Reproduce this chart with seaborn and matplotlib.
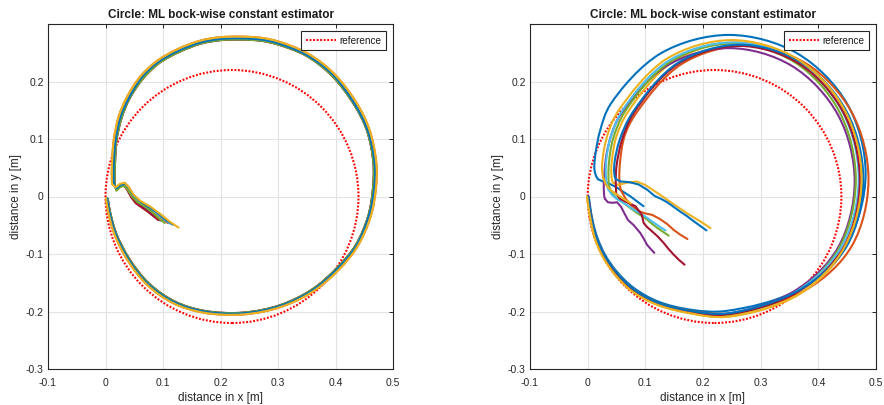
import numpy as np
import matplotlib
matplotlib.use("Agg")
import matplotlib.pyplot as plt
from matplotlib.path import Path
from matplotlib.patches import PathPatch, Circle
from matplotlib.lines import Line2D
from matplotlib.ticker import FuncFormatter
import seaborn as sns

# ---------------------------------------------------------------- data
TITLE = "Circle: ML bock-wise constant estimator"
X_LABEL = "distance in x [m]"
Y_LABEL = "distance in y [m]"
LEGEND_LABEL = "reference"

X_TICKS = [-0.1, 0.0, 0.1, 0.2, 0.3, 0.4, 0.5]
Y_TICKS = [-0.3, -0.2, -0.1, 0.0, 0.1, 0.2]

# reference trajectory: circle through the origin
REF_CENTER = (0.22, 0.0)
REF_RADIUS = 0.22

# ---- left panel: start segments (from start point to the turn-in)
left_tail_blue = [(0.117, -0.049), (0.104, -0.040), (0.090, -0.028), (0.075, -0.018), (0.061, -0.009),
                  (0.049, 0.002), (0.041, 0.015), (0.034, 0.022), (0.026, 0.020), (0.019, 0.014), (0.015, 0.022)]
left_tail_orange = [(0.108, -0.046), (0.097, -0.037), (0.085, -0.026), (0.071, -0.017), (0.058, -0.009),
                    (0.048, 0.002), (0.040, 0.016), (0.034, 0.023), (0.026, 0.021), (0.019, 0.015), (0.013, 0.021)]
left_tail_yellow = [(0.127, -0.054), (0.112, -0.044), (0.095, -0.030), (0.077, -0.017), (0.061, -0.008),
                    (0.049, 0.003), (0.040, 0.017), (0.033, 0.024), (0.025, 0.022), (0.018, 0.016), (0.012, 0.021)]
left_tail_purple = [(0.096, -0.042), (0.086, -0.035), (0.075, -0.025), (0.064, -0.017), (0.054, -0.010),
                    (0.046, 0.000), (0.039, 0.014), (0.033, 0.021), (0.026, 0.019), (0.019, 0.013), (0.016, 0.021)]
left_tail_green = [(0.103, -0.046), (0.093, -0.038), (0.081, -0.027), (0.068, -0.017), (0.056, -0.010),
                   (0.046, 0.000), (0.038, 0.013), (0.032, 0.019), (0.025, 0.016), (0.019, 0.010), (0.016, 0.020)]
left_tail_cyan = [(0.112, -0.047), (0.100, -0.038), (0.087, -0.027), (0.073, -0.017), (0.059, -0.009),
                  (0.048, 0.001), (0.040, 0.014), (0.033, 0.021), (0.026, 0.019), (0.019, 0.013), (0.015, 0.021)]
left_tail_red = [(0.092, -0.041), (0.083, -0.034), (0.073, -0.026), (0.063, -0.019), (0.053, -0.012),
                 (0.045, -0.002), (0.038, 0.011), (0.032, 0.019), (0.025, 0.017), (0.019, 0.012), (0.016, 0.020)]

# ---- left panel: the lap around the circle (outer / middle / inner runs)
left_loop_outer = [(0.011, 0.035), (0.012, 0.070), (0.0145, 0.099), (0.023, 0.139), (0.038, 0.174),
                   (0.061, 0.209), (0.090, 0.236), (0.125, 0.256), (0.165, 0.271), (0.200, 0.277),
                   (0.235, 0.278), (0.270, 0.276), (0.299, 0.270), (0.351, 0.249), (0.397, 0.214),
                   (0.437, 0.162), (0.459, 0.116), (0.471, 0.058), (0.470, 0.012), (0.461, -0.035),
                   (0.438, -0.087), (0.405, -0.128), (0.361, -0.165), (0.305, -0.192), (0.240, -0.205),
                   (0.171, -0.202), (0.119, -0.186), (0.073, -0.154), (0.038, -0.110), (0.015, -0.064),
                   (0.004, -0.023), (0.001, -0.003)]
left_loop_mid = [(0.014, 0.035), (0.015, 0.070), (0.0175, 0.098), (0.026, 0.138), (0.041, 0.172),
                 (0.063, 0.207), (0.092, 0.234), (0.126, 0.253), (0.166, 0.268), (0.200, 0.274),
                 (0.235, 0.275), (0.270, 0.273), (0.298, 0.267), (0.350, 0.246), (0.395, 0.212),
                 (0.434, 0.160), (0.456, 0.115), (0.468, 0.058), (0.467, 0.012), (0.458, -0.034),
                 (0.436, -0.086), (0.403, -0.126), (0.360, -0.163), (0.304, -0.190), (0.240, -0.203),
                 (0.172, -0.200), (0.120, -0.184), (0.074, -0.152), (0.040, -0.109), (0.017, -0.063),
                 (0.006, -0.023), (0.003, -0.003)]
left_loop_inner = [(0.016, 0.035), (0.017, 0.070), (0.019, 0.098), (0.028, 0.137), (0.042, 0.171),
                   (0.065, 0.205), (0.093, 0.232), (0.127, 0.251), (0.166, 0.266), (0.200, 0.272),
                   (0.235, 0.273), (0.270, 0.271), (0.298, 0.265), (0.349, 0.245), (0.394, 0.210),
                   (0.433, 0.159), (0.455, 0.114), (0.466, 0.058), (0.465, 0.012), (0.457, -0.034),
                   (0.435, -0.085), (0.402, -0.125), (0.359, -0.162), (0.304, -0.189), (0.240, -0.202),
                   (0.172, -0.199), (0.121, -0.183), (0.075, -0.151), (0.041, -0.108), (0.018, -0.063),
                   (0.007, -0.023), (0.004, -0.004)]

# drawing order of the left runs, with the lap each one follows
left_tails = [left_tail_orange, left_tail_purple, left_tail_red, left_tail_cyan,
              left_tail_green, left_tail_blue, left_tail_yellow]
left_loops = [left_loop_outer, left_loop_inner, left_loop_inner, left_loop_mid,
              left_loop_inner, left_loop_mid, left_loop_outer]
LEFT_COLORS = ["#D95319", "#7E2F8E", "#A2142F", "#4DBEEE", "#77AC30", "#0072BD", "#EDB120"]

# ---- right panel: start segments
right_tail_1 = [(0.097, -0.017), (0.0855, -0.0084), (0.074, 0.0003), (0.062, 0.008), (0.050, 0.016),
                (0.038, 0.022), (0.027, 0.026), (0.018, 0.030)]
right_tail_2 = [(0.173, -0.074), (0.160, -0.066), (0.149, -0.058), (0.138, -0.048), (0.125, -0.039),
                (0.112, -0.032), (0.098, -0.029), (0.088, -0.025), (0.076, -0.016), (0.066, -0.004),
                (0.058, 0.010)]
right_tail_3 = [(0.213, -0.055), (0.195, -0.043), (0.172, -0.029), (0.150, -0.014), (0.137, -0.005),
                (0.124, 0.004), (0.112, 0.012), (0.100, 0.020), (0.085, 0.026), (0.068, 0.024),
                (0.053, 0.020), (0.044, 0.024)]
right_tail_4 = [(0.1156, -0.098), (0.109, -0.091), (0.103, -0.084), (0.097, -0.073), (0.0913, -0.0635),
                (0.080, -0.050), (0.070, -0.041), (0.063, -0.028), (0.058, -0.018), (0.051, -0.010),
                (0.043, -0.011), (0.035, -0.010), (0.030, -0.004)]
right_tail_5 = [(0.1405, -0.068), (0.130, -0.061), (0.120, -0.054), (0.111, -0.047), (0.103, -0.040),
                (0.094, -0.034), (0.0855, -0.0287), (0.074, -0.020), (0.0624, -0.0113), (0.050, -0.003),
                (0.042, 0.006), (0.037, 0.018)]
right_tail_6 = [(0.135, -0.059), (0.127, -0.054), (0.120, -0.049), (0.111, -0.043), (0.103, -0.037),
                (0.092, -0.030), (0.080, -0.023), (0.070, -0.016), (0.060, -0.010), (0.050, -0.004),
                (0.042, 0.003), (0.036, 0.012)]
right_tail_7 = [(0.168, -0.1186), (0.158, -0.110), (0.149, -0.101), (0.140, -0.091), (0.132, -0.081),
                (0.122, -0.070), (0.1116, -0.0606), (0.103, -0.053), (0.097, -0.046), (0.094, -0.032),
                (0.083, -0.017), (0.068, -0.010), (0.056, -0.004), (0.050, 0.004)]
right_tail_8 = [(0.206, -0.059), (0.195, -0.051), (0.184, -0.043), (0.172, -0.034), (0.160, -0.026),
                (0.149, -0.018), (0.138, -0.010), (0.127, -0.004), (0.116, 0.001), (0.103, 0.012),
                (0.088, 0.021), (0.072, 0.025), (0.058, 0.026), (0.049, 0.030)]
right_tail_9 = [(0.075, -0.012), (0.062, -0.004), (0.050, 0.004), (0.040, 0.011), (0.032, 0.020),
                (0.027, 0.032)]

# ---- right panel: laps
right_loop_1 = [(0.012, 0.045), (0.013, 0.070), (0.022, 0.116), (0.040, 0.161), (0.1265, 0.2488),
                (0.245, 0.281), (0.3635, 0.2488), (0.4502, 0.1608), (0.482, 0.0405), (0.4502, -0.0798),
                (0.365, -0.162), (0.240, -0.199), (0.180, -0.197), (0.123, -0.183), (0.080, -0.159),
                (0.050, -0.130), (0.030, -0.101), (0.017, -0.072), (0.009, -0.044), (0.004, -0.015),
                (0.002, 0.0)]
right_loop_2 = [(0.055, 0.030), (0.056, 0.058), (0.064, 0.105), (0.0849, 0.146), (0.1637, 0.2309),
                (0.2715, 0.262), (0.3793, 0.2309), (0.4581, 0.146), (0.487, 0.030), (0.4581, -0.086),
                (0.379, -0.162), (0.250, -0.203), (0.180, -0.199), (0.122, -0.185), (0.079, -0.161),
                (0.049, -0.131), (0.029, -0.102), (0.016, -0.073), (0.008, -0.044), (0.003, -0.015),
                (0.001, 0.0)]
right_loop_3 = [(0.041, 0.040), (0.042, 0.062), (0.050, 0.105), (0.071, 0.1488), (0.1502, 0.236),
                (0.2585, 0.268), (0.3668, 0.236), (0.446, 0.1488), (0.475, 0.0295), (0.446, -0.0898),
                (0.3668, -0.170), (0.245, -0.209), (0.178, -0.203), (0.120, -0.188), (0.076, -0.164),
                (0.046, -0.134), (0.026, -0.104), (0.013, -0.074), (0.006, -0.045), (0.001, -0.015),
                (-0.001, 0.0)]
right_loop_4 = [(0.028, 0.012), (0.029, 0.040), (0.033, 0.075), (0.042, 0.110), (0.0571, 0.1423),
                (0.1367, 0.227), (0.2455, 0.258), (0.3543, 0.227), (0.4339, 0.1423), (0.463, 0.0265),
                (0.4339, -0.0893), (0.356, -0.166), (0.235, -0.205), (0.179, -0.201), (0.121, -0.186),
                (0.078, -0.162), (0.048, -0.132), (0.028, -0.103), (0.015, -0.074), (0.008, -0.045),
                (0.003, -0.015), (0.001, 0.0)]
right_loop_5 = [(0.036, 0.035), (0.037, 0.060), (0.044, 0.100), (0.0647, 0.1478), (0.1432, 0.2343),
                (0.2505, 0.266), (0.3578, 0.2343), (0.4363, 0.1478), (0.465, 0.0295), (0.4363, -0.0888),
                (0.360, -0.167), (0.240, -0.207), (0.178, -0.202), (0.120, -0.187), (0.077, -0.163),
                (0.047, -0.133), (0.027, -0.103), (0.014, -0.074), (0.007, -0.045), (0.002, -0.015),
                (0.0, 0.0)]
right_loop_6 = [(0.032, 0.030), (0.032, 0.060), (0.039, 0.100), (0.0604, 0.1498), (0.1407, 0.2363),
                (0.2505, 0.268), (0.3603, 0.2363), (0.4406, 0.1498), (0.470, 0.0315), (0.4406, -0.0868),
                (0.362, -0.165), (0.240, -0.205), (0.178, -0.201), (0.121, -0.186), (0.078, -0.162),
                (0.048, -0.132), (0.028, -0.103), (0.015, -0.074), (0.008, -0.045), (0.003, -0.015),
                (0.001, 0.0)]
right_loop_7 = [(0.049, 0.015), (0.049, 0.040), (0.051, 0.060), (0.060, 0.100), (0.0801, 0.1453),
                (0.157, 0.2307), (0.262, 0.262), (0.367, 0.2307), (0.4439, 0.1453), (0.472, 0.0285),
                (0.4439, -0.0883), (0.366, -0.165), (0.245, -0.205), (0.179, -0.201), (0.121, -0.186),
                (0.078, -0.162), (0.048, -0.132), (0.028, -0.103), (0.015, -0.074), (0.008, -0.045),
                (0.003, -0.015), (0.001, 0.0)]
right_loop_8 = [(0.046, 0.042), (0.047, 0.062), (0.056, 0.100), (0.0787, 0.1473), (0.157, 0.2327),
                (0.264, 0.264), (0.371, 0.2327), (0.4493, 0.1473), (0.478, 0.0305), (0.4493, -0.0863),
                (0.370, -0.161), (0.245, -0.203), (0.179, -0.199), (0.122, -0.185), (0.079, -0.161),
                (0.049, -0.131), (0.029, -0.102), (0.016, -0.073), (0.008, -0.044), (0.003, -0.015),
                (0.001, 0.0)]
right_loop_9 = [(0.025, 0.050), (0.028, 0.080), (0.037, 0.115), (0.0551, 0.1518), (0.1375, 0.2398),
                (0.250, 0.272), (0.3625, 0.2398), (0.4449, 0.1518), (0.475, 0.0315), (0.4449, -0.0888),
                (0.366, -0.170), (0.240, -0.209), (0.178, -0.203), (0.120, -0.188), (0.076, -0.164),
                (0.046, -0.134), (0.026, -0.104), (0.013, -0.074), (0.006, -0.045), (0.001, -0.015),
                (-0.001, 0.0)]

right_tails = [right_tail_1, right_tail_2, right_tail_3, right_tail_4, right_tail_5,
               right_tail_6, right_tail_7, right_tail_8, right_tail_9]
right_loops = [right_loop_1, right_loop_2, right_loop_3, right_loop_4, right_loop_5,
               right_loop_6, right_loop_7, right_loop_8, right_loop_9]
RIGHT_COLORS = ["#0072BD", "#D95319", "#EDB120", "#7E2F8E", "#77AC30", "#4DBEEE", "#A2142F",
                "#0072BD", "#EDB120"]

# ---------------------------------------------------------------- style
REF_COLOR = "#FF0000"
REF_DASH = (0, (0.9, 0.8))
LINE_W = 1.5

sns.set_theme(style="whitegrid")
plt.rcParams.update({
    "font.family": ["Liberation Sans", "DejaVu Sans"],
    "axes.unicode_minus": False,
    "axes.facecolor": "white",
    "axes.edgecolor": "#262626",
    "axes.linewidth": 0.8,
    "grid.color": "#e3e3e3",
    "grid.linewidth": 0.8,
    "xtick.direction": "in",
    "ytick.direction": "in",
    "xtick.color": "#262626",
    "ytick.color": "#262626",
    "xtick.labelcolor": "#262626",
    "ytick.labelcolor": "#262626",
    "text.color": "#1a1a1a",
    "axes.labelcolor": "#262626",
})


def smooth_path(points, lead):
    """Centripetal Catmull-Rom curve through the given points, as cubic Bezier segments."""
    P = np.asarray(points, float)
    n = len(P)
    ext = np.vstack([np.asarray(lead, float), P, 2 * P[-1] - P[-2]])
    verts = [P[0]]
    codes = [Path.MOVETO]
    for i in range(1, n):
        p0, p1, p2, p3 = ext[i - 1], ext[i], ext[i + 1], ext[i + 2]
        d1 = max(np.hypot(*(p1 - p0)), 1e-6)
        d2 = max(np.hypot(*(p2 - p1)), 1e-6)
        d3 = max(np.hypot(*(p3 - p2)), 1e-6)
        s1, s2, s3 = np.sqrt([d1, d2, d3])
        b1 = (d1 * p2 - d2 * p0 + (2 * d1 + 3 * s1 * s2 + d2) * p1) / (3 * s1 * (s1 + s2))
        b2 = (d3 * p1 - d2 * p3 + (2 * d3 + 3 * s3 * s2 + d2) * p2) / (3 * s3 * (s3 + s2))
        verts += [b1, b2, p2]
        codes += [Path.CURVE4] * 3
    return Path(np.array(verts), codes)


def tick_text(v, _pos):
    if abs(v) < 1e-9:
        return "0"
    return f"{round(v, 1):g}"


def draw_panel(ax, tails, loops, colors):
    ax.add_patch(Circle(REF_CENTER, REF_RADIUS, fill=False, edgecolor=REF_COLOR,
                        lw=LINE_W, linestyle=REF_DASH, zorder=2))
    for tail, loop, color in zip(tails, loops, colors):
        tx = [p[0] for p in tail]
        ty = [p[1] for p in tail]
        sns.lineplot(x=tx, y=ty, sort=False, estimator=None, color=color, lw=LINE_W,
                     ax=ax, legend=False, zorder=2.1, solid_capstyle="round", solid_joinstyle="round")
        lap = smooth_path([tail[-1]] + list(loop), lead=tail[-2])
        ax.add_patch(PathPatch(lap, fill=False, edgecolor=color, lw=LINE_W, zorder=2.1,
                               capstyle="round", joinstyle="round"))

    ax.set_xlim(-0.1, 0.5)
    ax.set_ylim(-0.3, 0.3)
    ax.set_xticks(X_TICKS)
    ax.set_yticks(Y_TICKS)
    ax.xaxis.set_major_formatter(FuncFormatter(tick_text))
    ax.yaxis.set_major_formatter(FuncFormatter(tick_text))
    ax.tick_params(axis="both", which="both", direction="in", length=3, width=0.7,
                   labelsize=7.5, top=True, right=True)
    ax.tick_params(axis="x", pad=6.5)
    ax.tick_params(axis="y", pad=3)
    ax.grid(True, color="#e3e3e3", lw=0.8)
    for s in ax.spines.values():
        s.set_visible(True)
        s.set_color("#262626")
        s.set_linewidth(0.8)
    ax.set_title(TITLE, fontsize=8.5, fontweight="bold", pad=4)
    ax.set_xlabel(X_LABEL, fontsize=8.5, labelpad=2.5)
    ax.set_ylabel(Y_LABEL, fontsize=8.5, labelpad=2.5)
    handle = Line2D([], [], color=REF_COLOR, lw=LINE_W, linestyle=REF_DASH)
    leg = ax.legend([handle], [LEGEND_LABEL], loc="upper right", fontsize=7.2, frameon=True,
                    fancybox=False, framealpha=1.0, edgecolor="#262626", handlelength=3.0,
                    handletextpad=0.4, borderpad=0.45, borderaxespad=0.7)
    leg.get_frame().set_linewidth(0.8)


fig = plt.figure(figsize=(8.84, 4.05), dpi=100)
ax_left = fig.add_axes([48 / 884, 36 / 405, 345 / 884, 345 / 405])
ax_right = fig.add_axes([530 / 884, 36 / 405, 346 / 884, 345 / 405])

draw_panel(ax_left, left_tails, left_loops, LEFT_COLORS)
draw_panel(ax_right, right_tails, right_loops, RIGHT_COLORS)

fig.savefig("out.png", dpi=100, facecolor="white")
